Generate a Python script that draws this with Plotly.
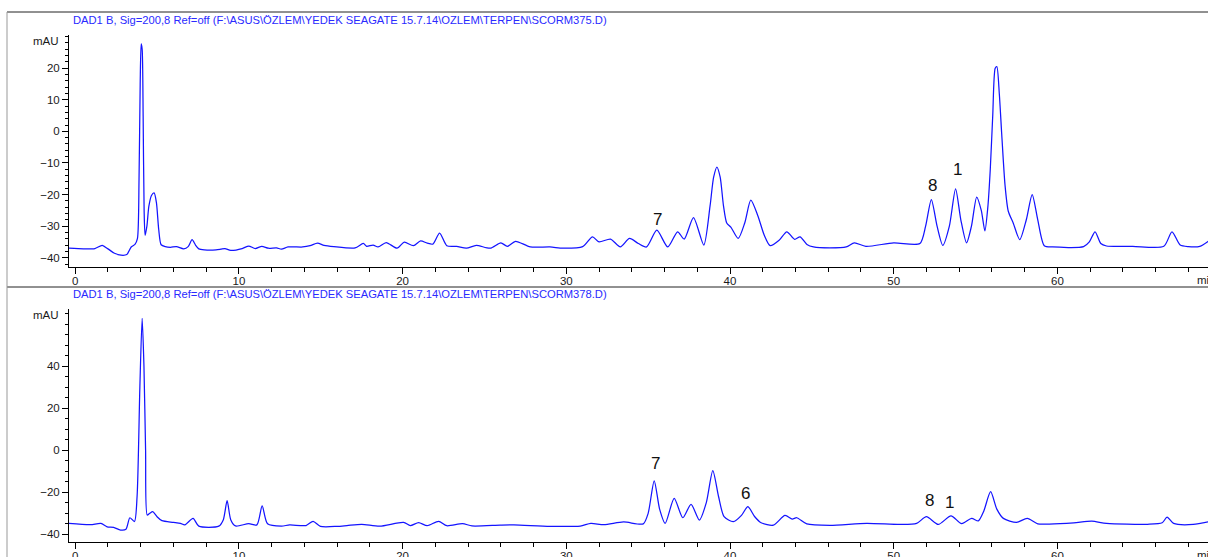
import plotly.graph_objects as go

W, H = 1208, 557

# ---------------- data ----------------
top_time = [-0.38, 0.5, 1.2, 1.65, 2.0, 2.4, 2.8, 3.15, 3.42, 3.65, 3.8, 3.9, 3.97, 4.03, 4.09, 4.15, 4.21, 4.27,
            4.38, 4.5, 4.66, 4.82, 4.96, 5.1, 5.25, 5.5, 5.82, 6.18, 6.63, 6.9, 7.14, 7.35, 7.55, 7.9, 8.6, 8.9,
            9.15, 9.5, 10.2, 10.6, 11.0, 11.4, 11.8, 12.3, 12.6, 13.0, 13.9, 14.35, 14.8, 15.2, 15.8, 17.1, 17.6,
            17.8, 18.2, 18.5, 19.0, 19.66, 20.1, 20.66, 21.1, 21.5, 21.85, 22.26, 22.7, 23.3, 23.9, 24.5, 25.35,
            26.0, 26.4, 26.9, 27.8, 29.0, 29.8, 31.0, 31.6, 32.0, 32.7, 33.3, 33.86, 34.4, 34.9, 35.53, 36.2, 36.8,
            37.2, 37.77, 38.4, 38.78, 39.0, 39.2, 39.4, 39.6, 39.8, 40.05, 40.5, 40.9, 41.27, 41.7, 42.1, 42.45,
            43.0, 43.47, 43.95, 44.28, 44.7, 45.1, 46.1, 47.1, 47.6, 48.3, 50.0, 51.6, 51.95, 52.3, 52.65, 53.0,
            53.4, 53.78, 54.1, 54.45, 54.75, 55.07, 55.35, 55.57, 55.75, 55.9, 56.05, 56.2, 56.3, 56.45, 56.6,
            56.8, 57.0, 57.3, 57.7, 58.1, 58.46, 58.8, 59.2, 59.7, 61.6, 61.95, 62.3, 62.65, 63.0, 64.6, 66.5,
            67.0, 67.5, 68.0, 68.7, 69.3]
top_mau = [-37.0, -37.2, -37.1, -36.1, -37.2, -38.6, -39.2, -39.0, -36.6, -35.8, -34.0, -15.0, 15.0, 27.7, 26.0,
           5.0, -25.0, -32.9, -30.0, -23.7, -20.3, -19.5, -22.5, -31.0, -35.9, -36.5, -36.7, -36.5, -37.2, -36.5,
           -34.3, -36.0, -37.2, -37.5, -37.5, -37.3, -37.1, -37.7, -37.1, -36.3, -37.1, -36.4, -37.0, -36.9,
           -37.3, -36.6, -36.6, -36.2, -35.4, -36.1, -36.5, -36.9, -35.5, -36.4, -36.0, -36.6, -35.2, -37.0,
           -35.1, -36.2, -34.7, -35.4, -35.7, -32.2, -36.2, -36.4, -37.0, -36.1, -37.0, -35.3, -36.4, -34.8,
           -36.6, -36.6, -37.0, -36.5, -33.4, -35.0, -34.1, -36.6, -33.9, -35.5, -36.6, -31.3, -36.6, -31.8,
           -34.1, -27.3, -36.0, -23.7, -14.5, -11.3, -14.5, -23.5, -29.0, -30.3, -33.9, -29.0, -21.8, -26.7,
           -33.0, -36.2, -34.5, -31.8, -34.2, -33.4, -35.8, -36.6, -36.9, -36.6, -35.3, -36.4, -35.3, -35.5,
           -30.0, -21.6, -30.0, -36.1, -30.0, -18.2, -28.0, -35.3, -30.0, -20.8, -25.0, -31.5, -24.0, -12.0,
           5.0, 20.0, 20.5, 12.0, -1.0, -17.0, -25.3, -29.0, -34.3, -28.0, -20.0, -28.0, -36.2, -36.6, -36.5,
           -35.0, -31.8, -35.5, -36.3, -36.4, -36.4, -31.8, -36.0, -36.5, -36.4, -34.5]

bot_time = [-0.38, 0.93, 1.57, 1.95, 2.35, 2.77, 3.1, 3.34, 3.62, 3.78, 3.95, 4.09, 4.2, 4.3, 4.4, 4.55, 4.74,
            5.0, 5.3, 6.0, 6.43, 6.7, 7.2, 7.55, 8.77, 9.05, 9.28, 9.5, 9.79, 10.6, 11.1, 11.42, 11.75, 12.6,
            13.1, 14.1, 14.53, 14.98, 16.0, 16.6, 17.5, 18.6, 20.06, 20.47, 20.98, 21.5, 22.2, 22.7, 23.66, 24.24,
            25.96, 26.8, 29.0, 30.85, 31.5, 32.3, 33.5, 34.7, 35.0, 35.37, 35.7, 36.04, 36.59, 37.12, 37.62,
            38.13, 38.55, 38.95, 39.3, 39.64, 40.2, 40.7, 41.09, 41.5, 41.9, 42.65, 43.36, 43.8, 44.08, 44.69,
            46.1, 48.35, 50.4, 51.4, 52.0, 52.72, 53.5, 54.15, 54.76, 55.17, 55.5, 55.92, 56.3, 56.7, 57.5,
            58.16, 58.8, 59.5, 61.0, 62.1, 63.0, 65.5, 66.4, 66.7, 67.1, 68.3, 69.3]
bot_mau = [-34.8, -35.4, -34.8, -36.4, -36.7, -37.95, -37.6, -32.1, -33.9, -22.0, 30.0, 62.8, 40.0, 0.0, -30.8,
           -30.0, -29.2, -31.6, -33.5, -34.3, -34.8, -35.5, -32.4, -36.1, -36.1, -33.0, -24.0, -33.0, -36.0,
           -34.9, -35.5, -26.5, -35.0, -36.1, -35.5, -35.8, -33.8, -36.2, -36.2, -35.8, -35.2, -36.1, -34.3,
           -35.8, -34.4, -35.9, -33.8, -35.9, -34.9, -36.0, -35.6, -35.5, -36.2, -36.05, -34.8, -35.4, -34.1,
           -35.0, -30.0, -14.5, -28.0, -34.8, -22.9, -32.1, -25.7, -33.2, -25.0, -9.7, -22.0, -31.6, -34.0,
           -31.0, -26.8, -31.5, -34.5, -35.6, -31.0, -32.7, -32.1, -35.0, -35.7, -34.8, -35.3, -34.8, -31.6,
           -35.3, -31.2, -34.9, -32.4, -33.6, -29.0, -19.7, -28.0, -32.4, -34.3, -32.4, -35.0, -35.1, -34.5,
           -33.7, -34.8, -35.2, -34.5, -31.8, -34.8, -35.3, -33.9]

x_ticks = [0, 10, 20, 30, 40, 50, 60]
top_yticks = [-40, -30, -20, -10, 0, 10, 20]
bot_yticks = [-40, -20, 0, 20, 40]

top_labels = ["7", "8", "1"]
top_label_x = [35.6, 52.36, 53.9]
top_label_y = [-27.9, -17.2, -12.1]
bot_labels = ["7", "6", "8", "1"]
bot_label_x = [35.43, 40.92, 52.2, 53.4]
bot_label_y = [-6.2, -20.5, -24.0, -24.9]

title_top = "DAD1 B, Sig=200,8 Ref=off (F:\\ASUS\\ÖZLEM\\YEDEK SEAGATE 15.7.14\\OZLEM\\TERPEN\\SCORM375.D)"
title_bot = "DAD1 B, Sig=200,8 Ref=off (F:\\ASUS\\ÖZLEM\\YEDEK SEAGATE 15.7.14\\OZLEM\\TERPEN\\SCORM378.D)"

# ---------------- figure ----------------
def px_x(p):
    return p / W

def px_y(p):
    return 1 - p / H

LINE = dict(color="#1414ff", width=1.25, shape="spline", smoothing=0.7)
FONT = dict(family="Arial, Liberation Sans, sans-serif", size=11.5, color="#1a1a1a")

fig = go.Figure()
fig.add_trace(go.Scatter(x=top_time, y=top_mau, mode="lines", line=LINE, xaxis="x", yaxis="y",
                         hoverinfo="skip", showlegend=False))
fig.add_trace(go.Scatter(x=bot_time, y=bot_mau, mode="lines", line=LINE, xaxis="x2", yaxis="y2",
                         hoverinfo="skip", showlegend=False))

x0, slope = 75.2, 16.37
xrange = [(69 - x0) / slope, (W - x0) / slope]

common_x = dict(range=xrange, domain=[px_x(69), 1.0], showline=True, linecolor="black", linewidth=1,
                ticks="outside", ticklen=6, tickcolor="black", tickvals=x_ticks, tickfont=FONT,
                ticklabelstandoff=-3,
                showgrid=False, zeroline=False, automargin=False,
                minor=dict(dtick=2, tick0=0, ticks="outside", ticklen=4, tickcolor="black", showgrid=False))
common_y = dict(showline=True, linecolor="black", linewidth=1, ticks="outside", ticklen=6,
                tickcolor="black", tickfont=FONT, showgrid=False, zeroline=False, automargin=False)

fig.update_layout(
    width=W, height=H, margin=dict(l=0, r=0, t=0, b=0, autoexpand=False),
    paper_bgcolor="white", plot_bgcolor="white",
    xaxis=dict(**common_x, anchor="y"),
    xaxis2=dict(**common_x, anchor="y2"),
    yaxis=dict(**common_y, anchor="x", domain=[px_y(266.7), px_y(35)], range=[-42.85, 30.5],
               tickvals=top_yticks,
               minor=dict(dtick=2, tick0=0, ticks="outside", ticklen=3, tickcolor="black", showgrid=False)),
    yaxis2=dict(**common_y, anchor="x2", domain=[px_y(541.7), px_y(309.3)], range=[-43.5, 67.1],
                tickvals=bot_yticks,
                minor=dict(dtick=5, tick0=0, ticks="outside", ticklen=3, tickcolor="black", showgrid=False)),
)

annotations = []
TITLE_FONT = dict(family="Arial, Liberation Sans, sans-serif", size=11.2, color="#2a2aff")
annotations.append(dict(text=title_top, xref="paper", yref="paper", x=px_x(71), y=px_y(19.5),
                        xanchor="left", yanchor="middle", showarrow=False, font=TITLE_FONT))
annotations.append(dict(text=title_bot, xref="paper", yref="paper", x=px_x(71), y=px_y(293.5),
                        xanchor="left", yanchor="middle", showarrow=False, font=TITLE_FONT))
annotations.append(dict(text="mAU", xref="paper", yref="paper", x=px_x(61), y=px_y(41),
                        xanchor="right", yanchor="middle", showarrow=False, font=FONT))
annotations.append(dict(text="mAU", xref="paper", yref="paper", x=px_x(61), y=px_y(315),
                        xanchor="right", yanchor="middle", showarrow=False, font=FONT))
annotations.append(dict(text="min", xref="paper", yref="paper", x=px_x(1195), y=px_y(280),
                        xanchor="left", yanchor="middle", showarrow=False, font=FONT))
annotations.append(dict(text="min", xref="paper", yref="paper", x=px_x(1195), y=px_y(555),
                        xanchor="left", yanchor="middle", showarrow=False, font=FONT))

LABEL_FONT = dict(family="Arial, Liberation Sans, sans-serif", size=17, color="#111111")
for t, lx, ly in zip(top_labels, top_label_x, top_label_y):
    annotations.append(dict(text=t, x=lx, y=ly, xref="x", yref="y", showarrow=False,
                            xanchor="center", yanchor="middle", font=LABEL_FONT))
for t, lx, ly in zip(bot_labels, bot_label_x, bot_label_y):
    annotations.append(dict(text=t, x=lx, y=ly, xref="x2", yref="y2", showarrow=False,
                            xanchor="center", yanchor="middle", font=LABEL_FONT))
fig.update_layout(annotations=annotations)

shapes = [
    dict(type="line", xref="paper", yref="paper", x0=px_x(7), x1=1, y0=px_y(12), y1=px_y(12),
         line=dict(color="#222222", width=1)),
    dict(type="line", xref="paper", yref="paper", x0=px_x(7), x1=1, y0=px_y(287), y1=px_y(287),
         line=dict(color="#222222", width=1)),
    dict(type="line", xref="paper", yref="paper", x0=px_x(7), x1=px_x(7), y0=0, y1=px_y(12),
         line=dict(color="#999999", width=1)),
]
fig.update_layout(shapes=shapes)

fig.write_html("out.html")
